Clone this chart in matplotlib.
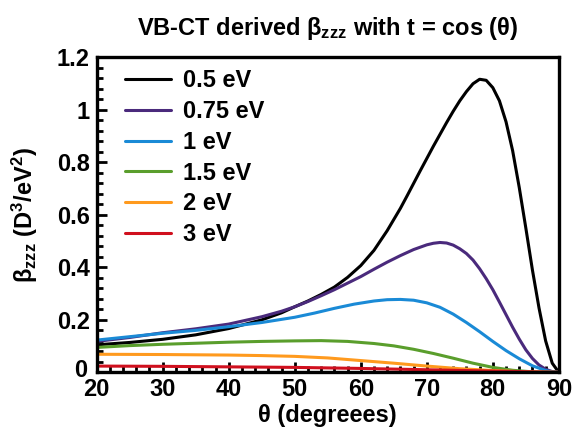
import matplotlib
matplotlib.use("Agg")
import matplotlib.pyplot as plt
import matplotlib.transforms as mtransforms
from matplotlib.ticker import MultipleLocator

plt.rcParams['font.family'] = ['Liberation Sans', 'DejaVu Sans']
plt.rcParams['font.weight'] = 'bold'
plt.rcParams['mathtext.default'] = 'regular'

labels = ["0.5 eV", "0.75 eV", "1 eV", "1.5 eV", "2 eV", "3 eV"]
colors = ["#000000", "#4a2a7c", "#1a8ad6", "#5a9e2c", "#ff9a1e", "#d0101e"]

th_05 = [20, 25, 30, 35, 40, 45, 48, 50, 52, 54, 56, 58, 60, 62, 64, 66, 67, 68, 69, 70, 71, 72, 73, 74, 75, 76,
         77, 78, 79, 80, 81, 82, 83, 84, 85, 86, 87, 88, 89, 90]
b_05 = [0.105, 0.114, 0.126, 0.143, 0.167, 0.2, 0.227, 0.25, 0.272, 0.297, 0.325, 0.362, 0.407, 0.465, 0.54,
        0.625, 0.672, 0.72, 0.768, 0.815, 0.862, 0.907, 0.952, 0.995, 1.035, 1.07, 1.1, 1.117, 1.113, 1.085,
        1.035, 0.955, 0.845, 0.705, 0.55, 0.39, 0.245, 0.12, 0.035, 0.0]

th_075 = [20, 25, 30, 35, 40, 45, 48, 50, 52, 54, 56, 58, 60, 62, 64, 66, 68, 70, 71, 72, 73, 74, 75, 76, 77,
          78, 79, 80, 81, 82, 83, 84, 85, 86, 87, 88, 89, 90]
b_075 = [0.118, 0.133, 0.151, 0.166, 0.184, 0.212, 0.233, 0.25, 0.27, 0.292, 0.315, 0.34, 0.365, 0.393, 0.42,
         0.445, 0.468, 0.486, 0.492, 0.495, 0.493, 0.485, 0.471, 0.453, 0.428, 0.395, 0.357, 0.315, 0.268, 0.22,
         0.172, 0.127, 0.086, 0.053, 0.028, 0.012, 0.003, 0.0]

th_1 = [20, 25, 30, 35, 40, 45, 50, 53, 56, 59, 62, 64, 66, 68, 70, 72, 74, 76, 78, 80, 82, 84, 86, 88, 89, 90]
b_1 = [0.123, 0.136, 0.149, 0.16, 0.174, 0.19, 0.21, 0.226, 0.244, 0.26, 0.272, 0.277, 0.278, 0.275, 0.265,
       0.248, 0.222, 0.19, 0.155, 0.118, 0.083, 0.052, 0.025, 0.007, 0.002, 0.0]

th_15 = [20, 25, 30, 35, 40, 45, 50, 54, 58, 62, 65, 68, 71, 74, 77, 80, 83, 86, 88, 90]
b_15 = [0.095, 0.102, 0.107, 0.111, 0.115, 0.118, 0.12, 0.121, 0.118, 0.11, 0.101, 0.088, 0.072, 0.054, 0.035,
        0.019, 0.008, 0.002, 0.0005, 0.0]

th_2 = [20, 30, 40, 45, 50, 55, 60, 65, 70, 75, 80, 85, 90]
b_2 = [0.069, 0.068, 0.066, 0.064, 0.061, 0.055, 0.045, 0.035, 0.024, 0.014, 0.007, 0.002, 0.0]

th_3 = [20, 30, 40, 50, 60, 70, 80, 90]
b_3 = [0.024, 0.023, 0.021, 0.019, 0.015, 0.01, 0.005, 0.0]

thetas = [th_05, th_075, th_1, th_15, th_2, th_3]
betas = [b_05, b_075, b_1, b_15, b_2, b_3]

fig = plt.figure(figsize=(5.72, 4.29), dpi=100)
ax = fig.add_axes([0.169, 0.132, 0.808, 0.734])

for th, b, c, lab in zip(thetas, betas, colors, labels):
    ax.plot(th, b, color=c, lw=2.2, label=lab, solid_capstyle='round', solid_joinstyle='round')

ax.set_xlim(20, 90)
ax.set_ylim(0, 1.2)
ax.xaxis.set_major_locator(MultipleLocator(10))
ax.xaxis.set_minor_locator(MultipleLocator(2))
ax.yaxis.set_minor_locator(MultipleLocator(0.04))
ax.set_yticks([0, 0.2, 0.4, 0.6, 0.8, 1.0, 1.2])
ax.set_yticklabels(["0", "0.2", "0.4", "0.6", "0.8", "1", "1.2"])
ax.tick_params(axis='x', which='major', pad=4)
ax.tick_params(axis='y', which='major', pad=5)
ax.tick_params(which='major', direction='in', length=7, width=2, labelsize=17)
ax.tick_params(which='minor', direction='in', length=4, width=2)
ax.tick_params(top=False, right=False, which='both')
for s in ax.spines.values():
    s.set_linewidth(2.4)

# nudge the "0" y-label slightly up/left so it does not collide with "20"
zero_lbl = ax.get_yticklabels()[0]
zero_lbl.set_transform(zero_lbl.get_transform() +
                       mtransforms.ScaledTranslation(-2 / 100, 4 / 100, fig.dpi_scale_trans))

ax.set_xlabel("θ (degreees)", fontsize=17, fontweight='bold', labelpad=2)
ax.set_ylabel("β$_{zzz}$ (D$^3$/eV$^2$)", fontsize=17, fontweight='bold', labelpad=12)
ax.set_title("VB-CT derived β$_{zzz}$ with t = cos (θ)", fontsize=17, fontweight='bold', pad=16)

leg = ax.legend(loc='upper left', frameon=False, fontsize=17, handlelength=1.95,
                handletextpad=0.5, labelspacing=0.33, borderaxespad=0.3,
                bbox_to_anchor=(0.025, 1.015))

fig.savefig("out.png", dpi=100)
